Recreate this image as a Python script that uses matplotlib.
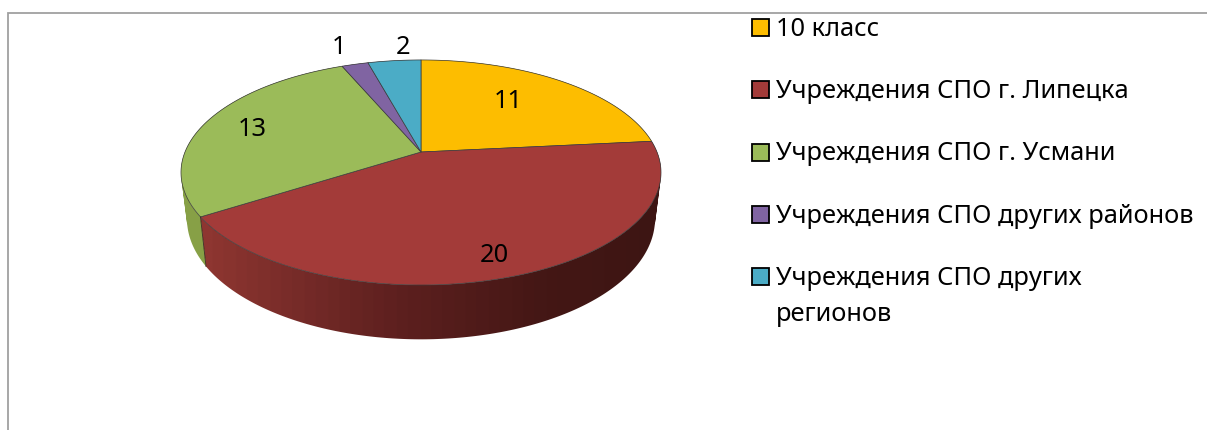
import numpy as np
import matplotlib
matplotlib.use('Agg')
import matplotlib.pyplot as plt
from matplotlib.colors import LinearSegmentedColormap
from matplotlib.patches import PathPatch, Rectangle
from matplotlib.path import Path

categories = ['10 класс', 'Учреждения СПО г. Липецка', 'Учреждения СПО г. Усмани',
              'Учреждения СПО других районов', 'Учреждения СПО других\nрегионов']
values = [11, 20, 13, 1, 2]
top_colors = ['#FDBD00', '#A33B39', '#9BBB59', '#8064A2', '#4BACC6']
wall_colors = ['#C79500', None, '#87A046', '#64507F', '#3A8AA0']

plt.rcParams['font.family'] = ['Noto Sans', 'DejaVu Sans']
FS = 18.3

# the axes run in picture pixels, y downwards
fig = plt.figure(figsize=(12.07, 4.3), dpi=100)
ax = fig.add_axes([0, 0, 1, 1])
ax.axis('off')

# perspective of the disc
CX, CY = 421, 152
RX, RY, K = 236, 108.8, 0.182
LOW_S, LOW_SY, LOW_D = 0.975, 1.07, 45


def rim(theta, low=False):
    u, v = np.sin(theta), np.cos(theta)
    w = 1 + K * v
    if low:
        return CX + LOW_S * RX * u / w, CY + LOW_D - LOW_SY * RY * v / w
    return CX + RX * u / w, CY - RY * v / w


def wall_path(t0, t1):
    # union of small quads, all wound the same way so they do not cancel
    th = np.linspace(t0, t1, 200)
    xt, yt = rim(th)
    xb, yb = rim(th, low=True)
    quads = []
    for j in range(len(th) - 1):
        q = np.array([(xt[j], yt[j]), (xt[j + 1], yt[j + 1]), (xb[j + 1], yb[j + 1]), (xb[j], yb[j])])
        area = np.sum(q[:, 0] * np.roll(q[:, 1], -1) - np.roll(q[:, 0], -1) * q[:, 1])
        if area < 0:
            q = q[::-1]
        quads.append(Path(np.vstack([q, q[0]]), closed=True))
    return Path.make_compound_path(*quads)


edges = np.cumsum([0] + values) / sum(values) * 2 * np.pi
red_wall = LinearSegmentedColormap.from_list('wall', [(0, '#8E3631'), (0.42, '#5E201F'),
                                                      (0.75, '#441715'), (1, '#3D1513')], N=40)

# side wall
for i in range(len(values)):
    path = wall_path(edges[i], edges[i + 1])
    if wall_colors[i] is None:
        wall = PathPatch(path, facecolor='none', edgecolor='none')
        ax.add_patch(wall)
        img = ax.imshow(np.linspace(0, 1, 256)[None, :], cmap=red_wall, aspect='auto',
                        extent=[200, 662, 345, 130])
        img.set_clip_path(wall)
    else:
        ax.add_patch(PathPatch(path, facecolor=wall_colors[i], edgecolor='none'))

# line between the green and red walls
xa, ya = rim(edges[2])
xc, yc = rim(edges[2], low=True)
ax.plot([xa, xc], [ya, yc], color='#3a2a20', lw=0.6)

# top face
for i in range(len(values)):
    th = np.linspace(edges[i], edges[i + 1], 200)
    x, y = rim(th)
    ax.fill(np.r_[CX, x], np.r_[CY, y], facecolor=top_colors[i], edgecolor='#3c3c3c', lw=0.5,
            joinstyle='round')

# value labels
label_pos = [(508, 98), (494, 252), (252, 126), (339, 44), (403, 44)]
for val, (lx, ly) in zip(values, label_pos):
    ax.text(lx, ly, str(val), fontsize=FS, color='black', ha='center', va='center_baseline')

# legend
leg_y = [27.5, 89.8, 152, 214.5, 276.8]
for i, name in enumerate(categories):
    ax.add_patch(Rectangle((752, leg_y[i] - 8.5), 17, 17, facecolor=top_colors[i],
                           edgecolor='black', lw=1.3))
    parts = name.split('\n')
    for n, part in enumerate(parts):
        ax.text(776, leg_y[i] + 8.5 + n * 36, part, fontsize=FS, color='black',
                ha='left', va='baseline')

# chart frame, cut by the picture edge
ax.plot([8, 8, 1207], [430, 12.5, 12.5], color='#A0A0A0', lw=1.3, solid_joinstyle='miter')

ax.set_xlim(0, 1207)
ax.set_ylim(430, 0)

fig.savefig('out.png', dpi=100)
